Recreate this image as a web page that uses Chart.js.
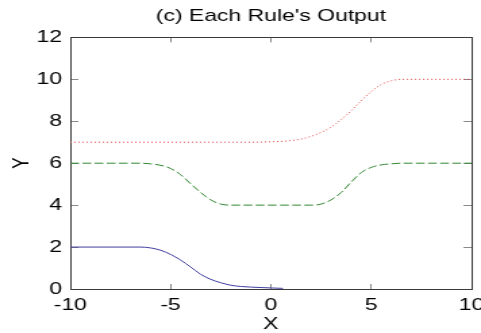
<!DOCTYPE html>
<html>
<head>
<meta charset="utf-8">
<title>Each Rule's Output</title>
<script src="https://cdn.jsdelivr.net/npm/chart.js@4.4.1/dist/chart.umd.min.js"></script>
<style>
  html, body { margin: 0; padding: 0; background: #fff; }
</style>
</head>
<body>
<!-- the original figure is stretched horizontally, so the canvas is drawn narrower and scaled by css -->
<canvas id="chart" width="356" height="333" style="width:481px;height:333px"></canvas>
<script>
// Datos
const titleText = "(c) Each Rule's Output";
const xTitle = 'X';
const yTitle = 'Y';

const blueX = [-10, -6.5, -6, -5.5, -5, -4.5, -4, -3.5, -3, -2.5, -2, -1.5, -1, -0.5, 0, 0.6];
const blueY = [2, 2, 1.96, 1.85, 1.65, 1.38, 1.05, 0.7, 0.46, 0.3, 0.18, 0.12, 0.09, 0.07, 0.05, 0.03];

const greenX = [-10, -6.5, -6, -5.5, -5, -4.5, -4, -3.5, -3, -2.5, -2, 2, 2.5, 3, 3.5, 4, 4.5, 5, 5.5, 6, 6.5, 10];
const greenY = [6, 6, 5.97, 5.9, 5.75, 5.45, 5.02, 4.6, 4.25, 4.05, 4, 4, 4.05, 4.25, 4.6, 5.1, 5.55, 5.8, 5.92, 5.97, 6, 6];

const redX = [-10, -1, 0, 0.5, 1, 1.5, 2, 2.5, 3, 3.5, 4, 4.5, 5, 5.5, 6, 6.5, 10];
const redY = [7, 7, 7.02, 7.04, 7.08, 7.15, 7.28, 7.47, 7.72, 8.08, 8.5, 8.98, 9.42, 9.75, 9.93, 10, 10];

const xTicks = { min: -10, max: 10, step: 5 };
const yTicks = { min: 0, max: 12, step: 2 };

// Estilos
const font = { family: "'Liberation Sans', Arial, sans-serif", size: 17, weight: 'normal' };
const axisColor = '#3a3a3a';
const tickColor = '#8a8a8a';

function toPoints(xs, ys) {
  return xs.map((x, i) => ({ x: x, y: ys[i] }));
}

const ctx = document.getElementById('chart').getContext('2d');
const chart = new Chart(ctx, {
  type: 'line',
  data: {
    datasets: [{
      label: 'Rule 1',
      data: toPoints(blueX, blueY),
      borderColor: 'rgb(62, 62, 160)',
      borderWidth: 1,
      pointRadius: 0,
      cubicInterpolationMode: 'monotone',
      fill: false
    }, {
      label: 'Rule 2',
      data: toPoints(greenX, greenY),
      borderColor: 'rgb(50, 135, 50)',
      borderWidth: 1,
      borderDash: [6.5, 2.5],
      pointRadius: 0,
      cubicInterpolationMode: 'monotone',
      fill: false
    }, {
      label: 'Rule 3',
      data: toPoints(redX, redY),
      borderColor: 'rgb(225, 70, 70)',
      borderWidth: 1,
      borderDash: [1, 2],
      pointRadius: 0,
      cubicInterpolationMode: 'monotone',
      fill: false
    }]
  },
  options: {
    responsive: false,
    devicePixelRatio: 1,
    animation: false,
    layout: { padding: 0 },
    plugins: {
      legend: { display: false },
      tooltip: { enabled: false },
      title: {
        display: true,
        text: titleText,
        fullSize: false,
        color: '#000',
        font: font,
        padding: { top: 6, bottom: 11 }
      }
    },
    scales: {
      x: {
        type: 'linear',
        position: 'bottom',
        min: xTicks.min,
        max: xTicks.max,
        ticks: { stepSize: xTicks.step, color: '#000', font: font, padding: 11, maxRotation: 0 },
        grid: { drawOnChartArea: false, tickLength: -5, color: tickColor },
        border: { color: axisColor },
        title: { display: true, text: xTitle, color: '#000', font: { ...font, lineHeight: 1 }, padding: 0 },
        afterFit: (s) => { s.height = 44; s.paddingLeft = 0; s.paddingRight = 0; }
      },
      x2: {
        type: 'linear',
        position: 'top',
        min: xTicks.min,
        max: xTicks.max,
        ticks: { stepSize: xTicks.step, display: false },
        grid: { drawOnChartArea: false, tickLength: -5, color: tickColor },
        border: { color: axisColor },
        afterFit: (s) => { s.height = 0; }
      },
      y: {
        type: 'linear',
        position: 'left',
        min: yTicks.min,
        max: yTicks.max,
        ticks: { stepSize: yTicks.step, color: '#000', font: font, padding: 12 },
        grid: { drawOnChartArea: false, tickLength: -6, color: tickColor },
        border: { color: axisColor },
        title: { display: true, text: yTitle, color: '#000', font: { ...font, lineHeight: 1 }, padding: { top: 7.5, bottom: 0 } },
        afterFit: (s) => { s.width = 52; }
      },
      y2: {
        type: 'linear',
        position: 'right',
        min: yTicks.min,
        max: yTicks.max,
        ticks: { stepSize: yTicks.step, display: false },
        grid: { drawOnChartArea: false, tickLength: -6, color: tickColor },
        border: { color: axisColor },
        afterFit: (s) => { s.width = 7; }
      }
    }
  }
});
</script>
</body>
</html>
